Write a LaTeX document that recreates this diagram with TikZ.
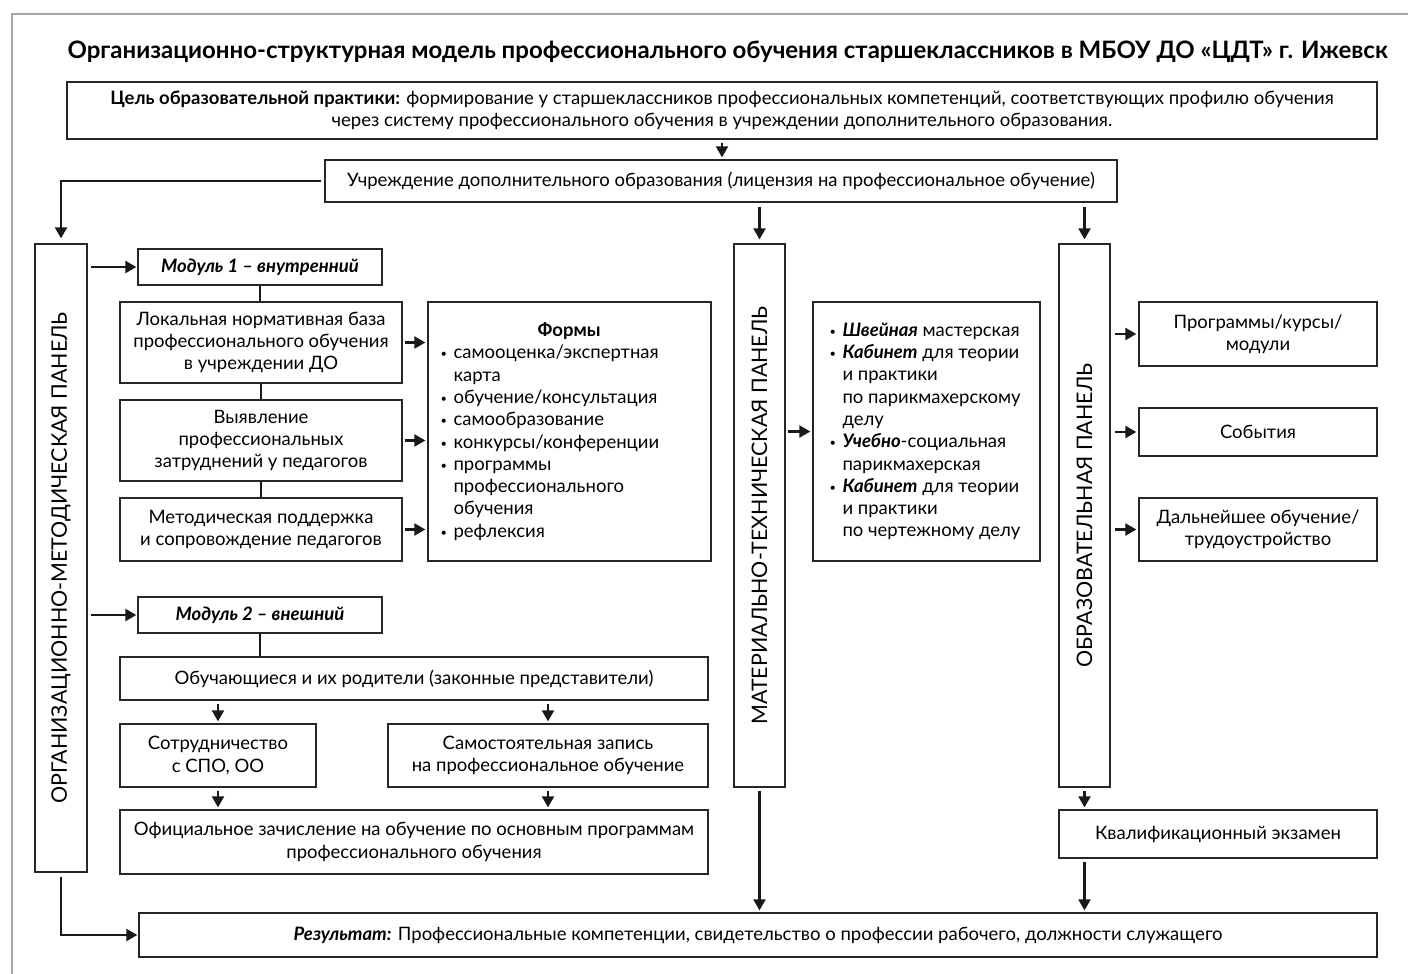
\documentclass[tikz,border=0pt]{standalone}
\usepackage{fontspec}
\setmainfont{Lato}
\usepackage{tikz}
\usetikzlibrary{arrows.meta}

\newcommand{\bul}{\makebox[13pt][l]{\raisebox{1pt}{\fontsize{11}{11}\selectfont •}}}
\newcommand{\ind}{\hspace*{13pt}}

\begin{document}
\begin{tikzpicture}[x=1pt, y=-1pt,
  box/.style={draw=black!85, line width=1.3pt, align=center, inner sep=0pt,
    font=\fontsize{18.5}{22.3}\selectfont},
  panel/.style={draw=black!85, line width=1.3pt, inner sep=0pt},
  paneltext/.style={rotate=90, font=\fontsize{21.4}{21.4}\selectfont},
  modtext/.style={font=\fontsize{18.5}{22}\selectfont\bfseries\itshape},
  link/.style={line width=2.2pt, black!90},
  arr/.style={link, -{Triangle[length=11pt, width=12pt]}, shorten <=3pt, shorten >=2pt}]
  \useasboundingbox (0,0) rectangle (1408,974);
  % frame
  \draw[black!35, line width=1.5pt] (12,974) -- (12,14) -- (1408,14);
  \node[font=\fontsize{24}{24}\selectfont\bfseries] (title) at (727.5,52)
    {Организационно-структурная модель профессионального обучения старшеклассников в МБОУ ДО «ЦДТ» г. Ижевск};

  \node[box, minimum width=1310, minimum height=57] (goal) at (722,110.5)
    {\textbf{Цель образовательной практики:} формирование у старшеклассников профессиональных компетенций, соответствующих профилю обучения\\
     через систему профессионального обучения в учреждении дополнительного образования.};
  \node[box, minimum width=792, minimum height=42] (inst) at (721,181)
    {Учреждение дополнительного образования (лицензия на профессиональное обучение)};

  % panels
  \node[panel, minimum width=52, minimum height=628] (omp) at (61,558) {};
  \node[paneltext] (omptext) at (omp.center) {ОРГАНИЗАЦИОННО-МЕТОДИЧЕСКАЯ ПАНЕЛЬ};
  \node[panel, minimum width=51, minimum height=543] (mtp) at (759.5,515.5) {};
  \node[paneltext] (mtptext) at (mtp.center) {МАТЕРИАЛЬНО-ТЕХНИЧЕСКАЯ ПАНЕЛЬ};
  \node[panel, minimum width=51, minimum height=543] (op) at (1084.5,515.5) {};
  \node[paneltext] (optext) at (op.center) {ОБРАЗОВАТЕЛЬНАЯ ПАНЕЛЬ};

  % module 1
  \node[box, modtext, minimum width=244, minimum height=36] (mod1) at (260,267)
    {Модуль 1 – внутренний};
  \node[box, minimum width=282, minimum height=81] (loc) at (261,342.5)
    {Локальная нормативная база\\ профессионального обучения\\ в учреждении ДО};
  \node[box, minimum width=282, minimum height=81] (find) at (261,440.5)
    {Выявление\\ профессиональных\\ затруднений у педагогов};
  \node[box, minimum width=282, minimum height=63] (supp) at (261,529.5)
    {Методическая поддержка\\ и сопровождение педагогов};
  \node[box, minimum width=283, minimum height=259] (forms) at (569.5,431.5) {};
  \node[anchor=west, align=left, inner sep=0pt, font=\fontsize{18.5}{22.3}\selectfont] (formstext)
    at ([xshift=13pt]forms.west)
    {\makebox[257pt]{\bfseries Формы}\\
     \bul самооценка/экспертная\\ \ind карта\\
     \bul обучение/консультация\\
     \bul самообразование\\
     \bul конкурсы/конференции\\
     \bul программы\\ \ind профессионального\\ \ind обучения\\
     \bul рефлексия};
  \node[box, minimum width=227, minimum height=259] (equip) at (926.5,431.5) {};
  \node[anchor=west, align=left, inner sep=0pt, font=\fontsize{18.5}{22.3}\selectfont] (equiptext)
    at ([xshift=17pt]equip.west)
    {\bul\textbf{\textit{Швейная}} мастерская\\
     \bul\textbf{\textit{Кабинет}} для теории\\ \ind и практики\\ \ind по парикмахерскому\\ \ind делу\\
     \bul\textbf{\textit{Учебно}}-социальная\\ \ind парикмахерская\\
     \bul\textbf{\textit{Кабинет}} для теории\\ \ind и практики\\ \ind по чертежному делу};

  % educational panel
  \node[box, minimum width=238, minimum height=64] (prog) at (1258,334) {Программы/курсы/\\ модули};
  \node[box, minimum width=238, minimum height=48] (event) at (1258,432) {События};
  \node[box, minimum width=238, minimum height=63] (next) at (1258,529.5) {Дальнейшее обучение/\\ трудоустройство};
  \node[box, minimum width=318, minimum height=48] (exam) at (1218,834) {Квалификационный экзамен};

  % module 2
  \node[box, modtext, minimum width=244, minimum height=36] (mod2) at (260,615)
    {Модуль 2 – внешний};
  \node[box, minimum width=588, minimum height=43] (pupil) at (414,678.5)
    {Обучающиеся и их родители (законные представители)};
  \node[box, minimum width=196, minimum height=63] (coop) at (218,755.5) {Сотрудничество\\ с СПО, ОО};
  \node[box, minimum width=320, minimum height=63] (self) at (548,755.5)
    {Самостоятельная запись\\ на профессиональное обучение};
  \node[box, minimum width=588, minimum height=64] (enrol) at (414,842)
    {Официальное зачисление на обучение по основным программам\\ профессионального обучения};

  \node[box, minimum width=1238, minimum height=44] (result) at (758,935)
    {\textbf{\textit{Результат:}} Профессиональные компетенции, свидетельство о профессии рабочего, должности служащего};

  % connectors
  \draw[arr] (goal.south) -- (goal.south |- inst.north);
  \draw[arr, shorten >=5pt] (inst.west) -| (omp.north);
  \draw[arr, shorten <=4pt, shorten >=4pt] (inst.south -| mtp.north) -- (mtp.north);
  \draw[arr, shorten <=4pt, shorten >=4pt] (inst.south -| op.north) -- (op.north);

  \draw[arr, shorten >=1pt] (omp.east |- mod1.west) -- (mod1.west);
  \draw[link] (mod1.south) -- (mod1.south |- loc.north);
  \draw[link] (loc.south) -- (find.north);
  \draw[link] (find.south) -- (supp.north);
  \foreach \n in {loc, find, supp}
    \draw[arr, shorten <=2pt] (\n.east) -- (\n.east -| forms.west);

  \draw[arr, shorten <=2pt] (mtp.east |- equip.west) -- (equip.west);
  \foreach \n in {prog, event, next}
    \draw[arr, shorten <=4pt] (op.east |- \n.west) -- (\n.west);

  \draw[arr, shorten >=1pt] (omp.east |- mod2.west) -- (mod2.west);
  \draw[link] (mod2.south) -- (mod2.south |- pupil.north);
  \foreach \n in {coop, self} {
    \draw[arr] (pupil.south -| \n.north) -- (\n.north);
    \draw[arr] (\n.south) -- (\n.south |- enrol.north);
  }

  \draw[arr] (op.south) -- (op.south |- exam.north);
  \draw[arr] (op.south |- exam.south) -- (op.south |- result.north);
  \draw[arr] (mtp.south) -- (mtp.south |- result.north);
  \draw[arr, shorten <=4pt, shorten >=1pt] (omp.south) |- (result.west);
\end{tikzpicture}
\end{document}
